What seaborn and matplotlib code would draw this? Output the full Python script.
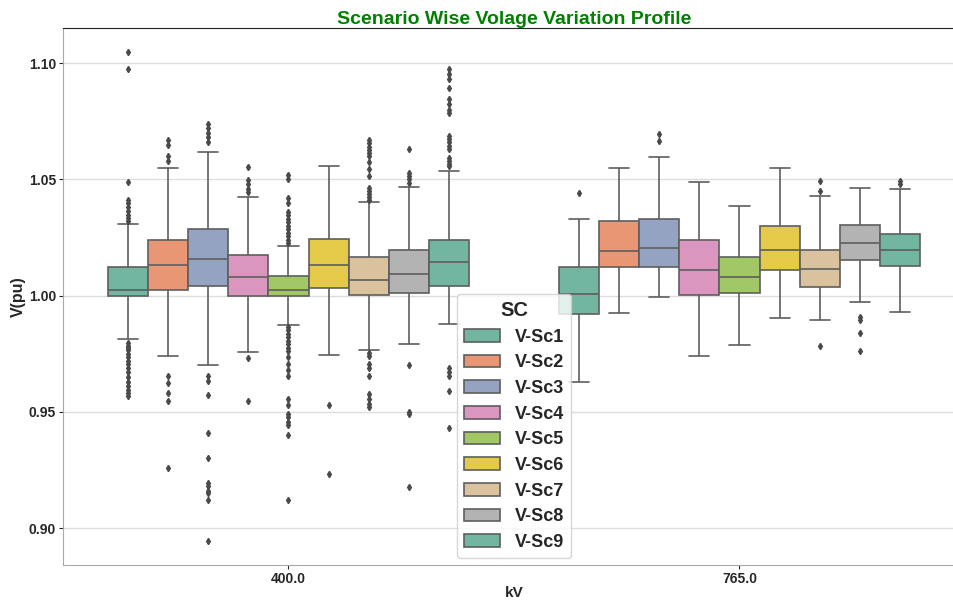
import matplotlib
matplotlib.use("Agg")
import matplotlib.pyplot as plt
import seaborn as sns
import pandas as pd

# categories
kv_levels = [400.0, 765.0]
scenarios = ["V-Sc1", "V-Sc2", "V-Sc3", "V-Sc4", "V-Sc5",
             "V-Sc6", "V-Sc7", "V-Sc8", "V-Sc9"]

# box statistics, 400 kV
q1_400 = [0.9997, 1.0022, 1.0043, 1.0000, 1.0000, 1.0033, 1.0002, 1.0010, 1.0041]
med_400 = [1.0023, 1.0131, 1.0158, 1.0081, 1.0023, 1.0131, 1.0069, 1.0092, 1.0144]
q3_400 = [1.0122, 1.0241, 1.0288, 1.0174, 1.0086, 1.0244, 1.0164, 1.0197, 1.0240]
wlo_400 = [0.9812, 0.9740, 0.9701, 0.9756, 0.9874, 0.9744, 0.9767, 0.9793, 0.9878]
whi_400 = [1.0308, 1.0550, 1.0616, 1.0425, 1.0213, 1.0558, 1.0404, 1.0466, 1.0537]
out_400 = [
    [1.1047, 1.0973, 1.0487, 1.0412, 1.0398, 1.0383, 1.0362, 1.0348, 1.0333, 1.0319,
     0.9795, 0.9785, 0.9775, 0.9765, 0.9750, 0.9735, 0.9720, 0.9705, 0.9690, 0.9670,
     0.9650, 0.9630, 0.9610, 0.9595, 0.9580, 0.9568],
    [1.0671, 1.0647, 1.0600, 1.0578, 0.9654, 0.9625, 0.9579, 0.9546, 0.9258],
    [1.0736, 1.0720, 1.0700, 1.0680, 1.0660, 0.9654, 0.9634, 0.9574, 0.9408, 0.9300,
     0.9193, 0.9180, 0.9160, 0.9150, 0.9122, 0.8945],
    [1.0552, 1.0499, 1.0480, 1.0460, 1.0444, 0.9733, 0.9547],
    [1.0520, 1.0500, 1.0420, 1.0400, 1.0358, 1.0345, 1.0330, 1.0315, 1.0300, 1.0285,
     1.0270, 1.0255, 1.0240, 1.0226,
     0.9866, 0.9850, 0.9835, 0.9820, 0.9805, 0.9790, 0.9775, 0.9760, 0.9736, 0.9707,
     0.9678, 0.9652, 0.9557, 0.9528, 0.9492, 0.9477, 0.9456, 0.9442, 0.9402, 0.9122],
    [0.9529, 0.9234],
    [1.0671, 1.0655, 1.0640, 1.0625, 1.0612, 1.0602, 1.0573, 1.0545, 1.0516, 1.0463,
     1.0450, 1.0438, 1.0425, 1.0413,
     0.9754, 0.9740, 0.9705, 0.9690, 0.9654, 0.9576, 0.9555, 0.9535, 0.9522],
    [1.0632, 1.0527, 1.0515, 1.0500, 1.0485, 0.9700, 0.9499, 0.9490, 0.9177],
    [1.0973, 1.0955, 1.0930, 1.0894, 1.0844, 1.0825, 1.0800, 1.0786, 1.0688, 1.0675,
     1.0660, 1.0645, 1.0631, 1.0592, 1.0580, 1.0568, 1.0556,
     0.9690, 0.9670, 0.9654, 0.9591, 0.9431],
]

# box statistics, 765 kV
q1_765 = [0.9921, 1.0121, 1.0121, 1.0004, 1.0013, 1.0111, 1.0036, 1.0151, 1.0128]
med_765 = [1.0006, 1.0193, 1.0206, 1.0109, 1.0081, 1.0194, 1.0116, 1.0224, 1.0198]
q3_765 = [1.0125, 1.0321, 1.0328, 1.0237, 1.0166, 1.0299, 1.0197, 1.0303, 1.0265]
wlo_765 = [0.9629, 0.9925, 0.9993, 0.9740, 0.9787, 0.9905, 0.9894, 0.9973, 0.9931]
whi_765 = [1.0331, 1.0549, 1.0597, 1.0489, 1.0387, 1.0549, 1.0430, 1.0461, 1.0460]
out_765 = [
    [1.0441],
    [],
    [1.0696, 1.0664],
    [],
    [],
    [],
    [1.0491, 1.0451, 0.9783],
    [0.9907, 0.9895, 0.9841, 0.9763],
    [1.0491, 1.0480],
]


def box_values(q1, med, q3, wlo, whi, outliers, k=100):
    # repeat the read quartiles so the drawn box lands on them
    return [wlo] + [q1] * k + [med] * k + [q3] * k + [whi] + list(outliers)


rows = []
stats = {
    400.0: (q1_400, med_400, q3_400, wlo_400, whi_400, out_400),
    765.0: (q1_765, med_765, q3_765, wlo_765, whi_765, out_765),
}
for kv in kv_levels:
    q1s, meds, q3s, wlos, whis, outs = stats[kv]
    for i, sc in enumerate(scenarios):
        for v in box_values(q1s[i], meds[i], q3s[i], wlos[i], whis[i], outs[i]):
            rows.append({"kV": kv, "SC": sc, "V(pu)": v})
df = pd.DataFrame(rows)

sns.set_style("ticks")
plt.rcParams["font.family"] = ["Liberation Sans", "DejaVu Sans"]

fig, ax = plt.subplots(figsize=(9.54, 6.01), dpi=100)
ax.set_position([63 / 954, 35.7 / 601, 902 / 954, 537.6 / 601])

sns.boxplot(data=df, x="kV", y="V(pu)", hue="SC", hue_order=scenarios,
            palette="Set2", saturation=0.75, linewidth=1.2, linecolor="#5e5e5e",
            ax=ax,
            flierprops=dict(marker="d", markersize=3.2,
                            markerfacecolor="#4a4a4a", markeredgecolor="#4a4a4a"))

ax.yaxis.grid(True, color="#dddddd", linewidth=1)
ax.set_axisbelow(True)
ax.spines["top"].set_color("#222222")
for s in ["left", "bottom", "right"]:
    ax.spines[s].set_color("#aaaaaa")

ax.set_title("Scenario Wise Volage Variation Profile", color="green",
             fontsize=14, fontweight="bold", pad=3)
ax.set_xlabel("kV", fontsize=11, fontweight="bold", color="#262626", labelpad=0)
ax.set_ylabel("V(pu)", fontsize=11.5, fontweight="bold", color="#262626", labelpad=2)
ax.tick_params(axis="both", labelsize=10, colors="#262626", length=3, pad=2)
for lbl in ax.get_xticklabels() + ax.get_yticklabels():
    lbl.set_fontweight("bold")

sns.move_legend(ax, "lower center", title="SC", frameon=True,
                prop={"weight": "bold", "size": 13},
                title_fontproperties={"weight": "bold", "size": 14.5},
                labelspacing=0.48, handlelength=2.0, borderaxespad=0.4)

plt.savefig("out.png", dpi=100)
plt.close()
